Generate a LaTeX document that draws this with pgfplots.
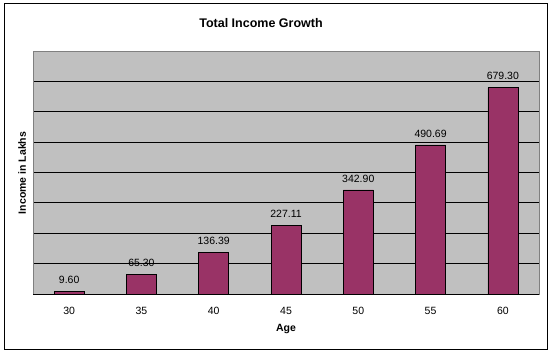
\documentclass[border=0pt]{standalone}
\usepackage{pgfplots}
\pgfplotsset{compat=1.18}
\usepackage{fontspec}
\setmainfont{Liberation Sans}
\definecolor{barc}{HTML}{993366}
\definecolor{plotbg}{HTML}{C0C0C0}
\begin{document}
\begin{tikzpicture}[x=1pt,y=1pt]
\path[use as bounding box] (0,0) rectangle (554,354);
\fill[white] (0,0) rectangle (554,354);
\draw[black, line width=1pt] (4,5) rectangle (547,350);
\begin{axis}[
  at={(33pt,60pt)}, anchor=south west,
  scale only axis, width=506pt, height=243pt,
  xmin=-0.5, xmax=6.5, ymin=0, ymax=800,
  ytick={100,200,...,700}, yticklabels={},
  major y tick style={draw=none},
  ymajorgrids, grid style={black, line width=0.8pt},
  axis background/.style={fill=plotbg},
  axis line style={draw=gray},
  xtick={0,...,6}, xticklabels={30,35,40,45,50,55,60},
  major x tick style={draw=none},
  extra x ticks={-0.5,0.5,...,6.5}, extra x tick labels={},
  extra x tick style={tick align=outside, major tick length=4pt, tick style={black, line width=0.6pt}},
  xticklabel style={font=\fontsize{10.5}{12}\selectfont, yshift=-5pt},
  /pgf/number format/assume math mode=true,
  ybar, bar width=30pt,
  nodes near coords={\pgfmathprintnumber[fixed,fixed zerofill,precision=2]{\pgfplotspointmeta}},
  nodes near coords style={font=\fontsize{10.5}{12}\selectfont, yshift=4pt},
  clip=false,
]
\addplot[fill=barc, draw=black, line width=0.6pt] coordinates {
(0,9.60) (1,65.30) (2,136.39) (3,227.11) (4,342.90) (5,490.69) (6,679.30)};
\draw[black, line width=0.8pt] (axis cs:-0.5,0) -- (axis cs:6.5,0);
\end{axis}
\node[font=\bfseries\fontsize{12.5}{14}\selectfont] at (261,331) {Total Income Growth};
\node[font=\bfseries\fontsize{10.5}{12}\selectfont, rotate=90] at (22,181) {Income in Lakhs};
\node[font=\bfseries\fontsize{10.5}{12}\selectfont] at (286,25) {Age};
\end{tikzpicture}
\end{document}
